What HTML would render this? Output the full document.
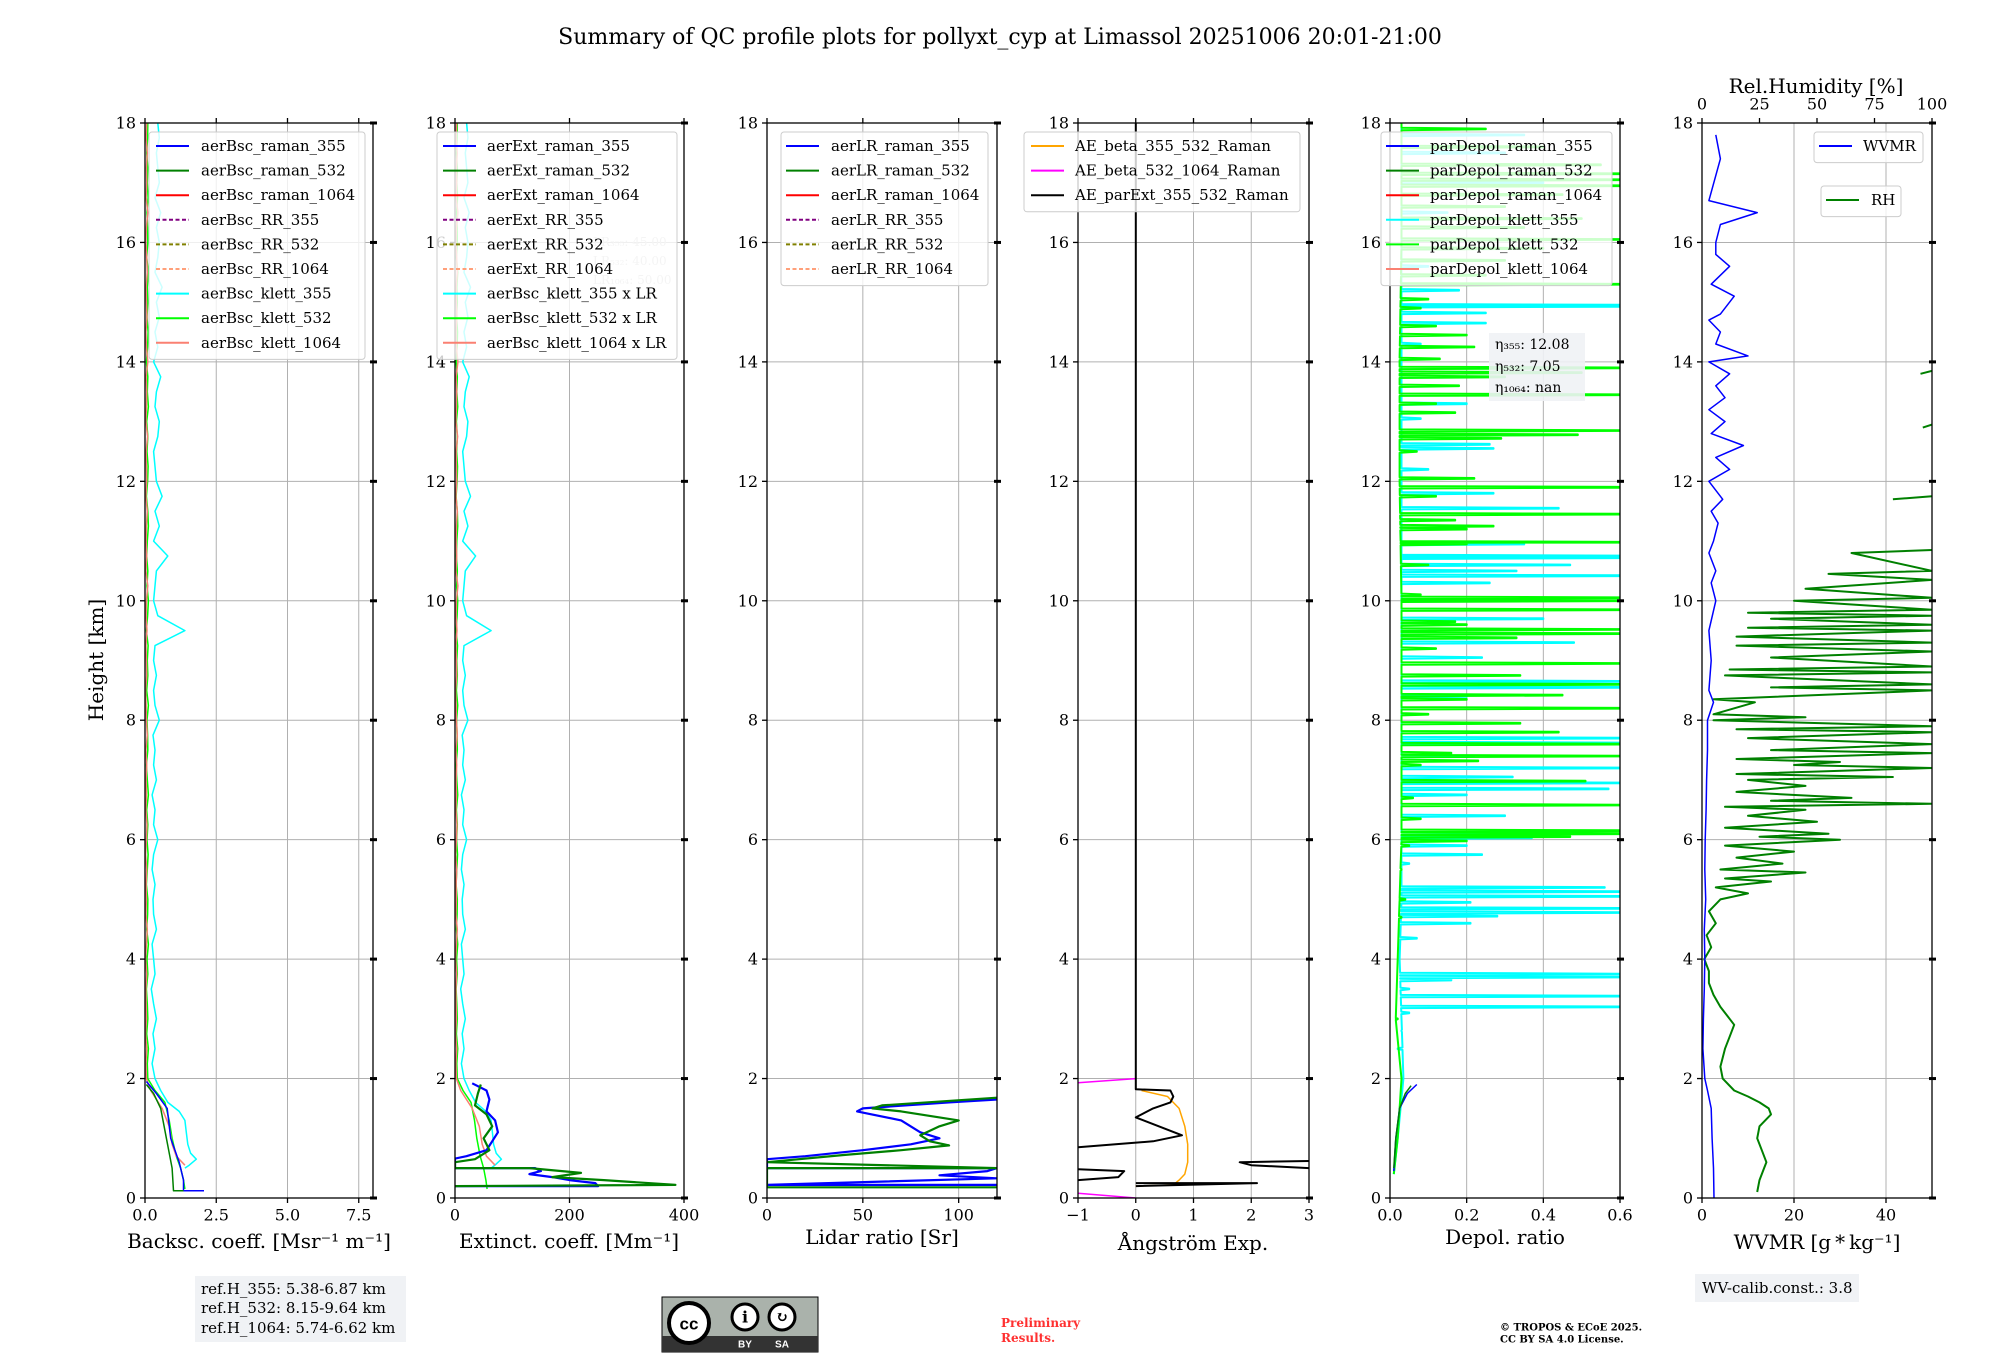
<!DOCTYPE html>
<html><head><meta charset="utf-8">
<style>
html,body{margin:0;padding:0;background:#fff;}
svg{display:block;font-family:"DejaVu Serif","Liberation Serif",serif;}
</style></head>
<body>
<svg id="fig" width="2000" height="1360" viewBox="0 0 2000 1360" xmlns="http://www.w3.org/2000/svg">
<text x="1000" y="44" text-anchor="middle" font-size="22">Summary of QC profile plots for pollyxt_cyp at Limassol 20251006 20:01-21:00</text>
<g id="layer"></g>
</svg>
<script>
// ---------- DATA ----------
const bsc355RamanH = [0.12,0.12,0.3,0.6,1.0,1.5,1.75,1.95];
const bsc355RamanV = [2.07,1.35,1.35,1.2,0.9,0.78,0.4,0.05];
const bsc532RamanH = [0.12,0.12,0.5,1.0,1.5,1.75,1.9];
const bsc532RamanV = [1.35,1.0,0.95,0.75,0.55,0.3,0.05];
const bscK355LowH = [0.5,0.55,0.65,0.75,0.9,1.1,1.3,1.45,1.6,1.8];
const bscK355LowV = [1.4,1.55,1.8,1.6,1.5,1.45,1.4,1.2,0.8,0.55];
const bscK532LowH = [0.15,0.3,0.5,0.7,1.0,1.3,1.6,1.8];
const bscK532LowV = [1.4,1.35,1.25,1.1,0.95,0.85,0.7,0.35];
const bscK1064LowH = [0.55,0.7,0.9,1.2,1.5,1.8];
const bscK1064LowV = [1.4,1.1,0.95,0.85,0.6,0.2];
// upper noisy profiles, 2.0 km to 18.0 km every 0.25 km
const bscK355Up = [0.35,0.25,0.35,0.28,0.4,0.3,0.22,0.35,0.3,0.25,0.4,0.3,0.28,0.35,0.25,0.3,0.45,0.3,0.35,0.25,0.4,0.3,0.35,0.28,0.5,0.35,0.3,0.4,0.3,0.35,1.4,0.45,0.3,0.35,0.4,0.8,0.3,0.5,0.35,0.6,0.4,0.35,0.3,0.45,0.5,0.35,0.4,0.55,0.3,0.45,0.35,0.5,0.4,0.6,0.35,0.45,0.5,0.4,0.55,0.35,0.5,0.45,0.4,0.5,0.45];
const bscK532Up = [0.1,0.08,0.12,0.06,0.1,0.08,0.05,0.1,0.07,0.12,0.06,0.09,0.1,0.05,0.08,0.11,0.07,0.1,0.06,0.12,0.08,0.05,0.1,0.09,0.07,0.12,0.06,0.1,0.08,0.11,0.05,0.09,0.12,0.07,0.1,0.06,0.08,0.12,0.1,0.05,0.09,0.11,0.07,0.1,0.06,0.12,0.08,0.1,0.05,0.09,0.11,0.07,0.1,0.08,0.12,0.06,0.1,0.09,0.07,0.11,0.08,0.1,0.06,0.09,0.1];
const bscK1064Up = [0.05,0.03,0.06,0.02,0.05,0.04,0.03,0.06,0.02,0.05,0.08,0.03,0.05,0.04,0.06,0.02,0.05,0.07,0.03,0.05,0.04,0.06,0.03,0.08,0.05,0.04,0.02,0.06,0.05,0.03,0.07,0.04,0.05,0.1,0.03,0.06,0.04,0.05,0.08,0.03,0.06,0.05,0.04,0.09,0.03,0.05,0.06,0.04,0.1,0.05,0.03,0.07,0.05,0.04,0.08,0.06,0.03,0.05,0.1,0.04,0.06,0.05,0.08,0.04,0.06];
const lrKlett = [45,40,50];
const ext355H = [0.2,0.2,0.25,0.3,0.35,0.4,0.45,0.5,0.5,0.66,0.7,0.8,0.95,1.1,1.3,1.45,1.65,1.8,1.92];
const ext355V = [0,250,245,200,170,130,150,140,0,0,20,55,65,75,70,55,60,55,30];
const ext532H = [0.2,0.22,0.3,0.35,0.42,0.5,0.5,0.6,0.65,0.8,1.0,1.2,1.4,1.55,1.75,1.9];
const ext532V = [0,385,260,170,220,130,0,0,35,60,50,65,55,35,40,45];
const lr355H = [0.22,0.22,0.33,0.38,0.45,0.5,0.5,0.65,0.7,0.8,0.9,1.0,1.1,1.3,1.45,1.5,1.6,1.65];
const lr355V = [120,0,120,90,115,120,0,0,20,50,75,90,80,70,47,50,95,120];
const lr532H = [0.18,0.18,0.5,0.5,0.6,0.72,0.8,0.88,0.95,1.05,1.2,1.3,1.45,1.5,1.55,1.68];
const lr532V = [120,0,0,120,0,40,70,95,85,80,90,100,70,55,60,120];
const aeBetaH = [0.2,0.22,0.3,0.4,0.6,0.9,1.2,1.5,1.7,1.8];
const aeBetaV = [0.0,0.65,0.75,0.85,0.9,0.9,0.85,0.75,0.55,0.1];
const aeMagH = [[0.0,0.08],[2.0,1.93]];
const aeMagV = [[0,-1],[0,-1]];
const aeExtH = [[18,1.82,1.8,1.7,1.6,1.5,1.35,1.2,1.05,0.95,0.85],[0.3,0.35,0.45,0.48],[0.5,0.55,0.6,0.62],[0.25,0.25,0.2]];
const aeExtV = [[0,0,0.6,0.65,0.6,0.3,0,0.4,0.8,0.3,-1],[-1,-0.3,-0.2,-1],[3,2.0,1.8,3],[0,2.1,0]];
const dpR355H = [0.45,1.0,1.5,1.75,1.9];
const dpR355V = [0.01,0.015,0.025,0.045,0.07];
const dpR532H = [0.5,1.0,1.5,1.75,1.88];
const dpR532V = [0.01,0.015,0.025,0.04,0.055];
const dpBaseH = [0.4,1.0,2.0,3.0,4.0,5.0,6.0,8.0,10.0,12.0,14.0,16.0,18.0];
const dpK532Base = [0.01,0.02,0.03,0.015,0.02,0.025,0.03,0.03,0.03,0.025,0.025,0.03,0.03];
const dpK355Base = [0.01,0.02,0.035,0.03,0.025,0.03,0.03,0.03,0.03,0.03,0.03,0.03,0.03];
const dpK532SpH = [17.9,17.6,17.3,17.15,17.05,16.95,16.8,16.6,16.4,16.25,16.05,15.9,15.7,15.45,15.3,15.05,14.9,14.6,14.45,14.25,14.05,13.9,13.82,13.75,13.6,13.45,13.3,13.15,12.85,12.78,12.72,12.5,12.05,11.9,11.75,11.45,11.35,11.25,11.2,10.98,10.95,10.6,10.1,10.05,10.0,9.85,9.65,9.6,9.52,9.45,9.38,9.2,8.95,8.75,8.6,8.42,8.35,8.2,8.1,7.95,7.8,7.6,7.45,7.4,7.32,7.25,6.98,6.7,6.58,6.35,6.15,6.1,6.05,5.98,5.9,5.5,5.0,4.7,3.0];
const dpK532SpV = [0.25,0.4,0.55,0.6,0.6,0.6,0.45,0.3,0.5,0.35,0.6,0.4,0.3,0.25,0.6,0.1,0.08,0.12,0.2,0.22,0.13,0.6,0.5,0.3,0.18,0.6,0.12,0.17,0.6,0.49,0.29,0.07,0.22,0.6,0.12,0.6,0.17,0.27,0.2,0.6,0.2,0.1,0.08,0.6,0.6,0.6,0.17,0.2,0.6,0.6,0.33,0.12,0.6,0.34,0.6,0.45,0.2,0.6,0.1,0.34,0.44,0.6,0.16,0.6,0.23,0.08,0.51,0.06,0.6,0.08,0.6,0.6,0.47,0.2,0.05,0.03,0.04,0.03,0.02];
const dpK355SpH = [17.8,17.5,17.0,16.5,15.6,15.2,14.95,14.93,14.82,14.65,14.3,13.3,13.05,12.62,12.55,12.2,11.8,11.55,10.95,10.75,10.72,10.6,10.5,10.42,10.3,9.7,9.3,9.05,8.65,8.55,8.4,7.7,7.62,7.4,7.2,7.05,6.95,6.85,6.75,6.4,6.1,6.03,5.9,5.75,5.6,5.2,5.13,5.05,4.95,4.85,4.78,4.72,4.6,4.35,3.75,3.7,3.65,3.5,3.38,3.2,3.1,2.8,2.5];
const dpK355SpV = [0.35,0.3,0.4,0.15,0.1,0.18,0.6,0.6,0.25,0.25,0.08,0.2,0.08,0.26,0.27,0.1,0.27,0.44,0.35,0.6,0.6,0.47,0.33,0.6,0.26,0.4,0.48,0.24,0.6,0.6,0.2,0.6,0.6,0.22,0.6,0.32,0.6,0.57,0.2,0.3,0.3,0.37,0.2,0.24,0.05,0.56,0.6,0.6,0.21,0.6,0.6,0.28,0.21,0.07,0.6,0.6,0.16,0.05,0.6,0.6,0.05,0.03,0.02];
const wvH = [0,0.5,1.0,1.5,1.8,2.0,2.5,3,3.5,4,4.5,5,5.5,6,6.5,7,7.5,8,8.3,8.5,9,9.5,10,10.3,10.5,10.8,11,11.3,11.5,11.7,12,12.2,12.4,12.6,12.8,13,13.2,13.4,13.6,13.8,14.0,14.1,14.3,14.5,14.7,14.8,15.1,15.3,15.6,15.8,16.0,16.3,16.5,16.7,17.4,17.8];
const wvV = [2.6,2.5,2.2,2.0,1.2,0.6,0.2,0.3,0.5,0.6,0.5,0.8,0.6,0.7,0.9,1.0,1.2,1.2,2.5,1.5,2,1.5,3,2,3,1.5,2.5,3.5,2,4.5,1.5,6,3,9,2,5,1.5,5,3,6,1.5,10,3,4,1.5,4,7,2,6,3,3,4,12,1.5,4,3];
const rhH = [0.1,0.3,0.5,0.6,0.8,1.0,1.2,1.4,1.5,1.6,1.7,1.8,2.0,2.2,2.5,2.7,2.9,3.0,3.2,3.4,3.6,3.8,4.0,4.2,4.4,4.6,4.8,5.0,5.1,5.2,5.3,5.35,5.45,5.5,5.6,5.7,5.8,5.9,6.0,6.05,6.1,6.2,6.3,6.4,6.5,6.55,6.6,6.65,6.7,6.8,6.9,7.0,7.05,7.1,7.2,7.25,7.3,7.35,7.45,7.5,7.6,7.7,7.8,7.85,7.9,8.0,8.05,8.1,8.3,8.35,8.5,8.55,8.6,8.75,8.8,8.85,8.9,9.05,9.15,9.25,9.3,9.4,9.5,9.55,9.6,9.7,9.75,9.8,9.85,10.0,10.05,10.2,10.35,10.45,10.5,10.8,10.85,null,11.7,11.75,null,12.9,12.95,null,13.8,13.85];
const rhV = [24,25,27,28,26,24,25,30,29,25,20,14,9,8,10,12,14,12,8,5,3,3,1,4,2,6,3,8,20,6,30,10,45,8,35,15,40,10,60,25,55,10,50,20,45,10,100,30,65,15,45,20,83,15,100,40,60,15,100,30,100,20,100,15,100,5,45,5,23,5,100,30,100,10,100,12,100,30,100,15,100,15,100,20,100,30,100,20,100,40,100,45,100,55,100,65,100,null,83,100,null,96,100,null,95,100];

// ---------- HELPERS ----------
const NS = 'http://www.w3.org/2000/svg';
const layer = document.getElementById('layer');
const Y0 = 1198, Y1 = 123, HMAX = 18;
const TICKFS = 16, LABFS = 20;
function yS(h){ return Y0 - (h / HMAX) * (Y0 - Y1); }
function mkScale(px0, px1, d0, d1){ return v => px0 + (v - d0) / (d1 - d0) * (px1 - px0); }
function el(tag, attrs, parent){
  const e = document.createElementNS(NS, tag);
  for (const k in attrs) e.setAttribute(k, attrs[k]);
  (parent || layer).appendChild(e);
  return e;
}
function txt(x, y, s, size, anchor, name, extra){
  const t = el('text', Object.assign({x:x, y:y, 'font-size':size, 'text-anchor':anchor||'start', 'dominant-baseline':'central'}, extra||{}));
  t.textContent = s;
  
  
  return t;
}
function pathFrom(H, V, xs, clipId, color, width, name, dash){
  let d = '', pen = false;
  for (let i = 0; i < H.length; i++){
    if (H[i] === null || V[i] === null){ pen = false; continue; }
    d += (pen ? 'L' : 'M') + xs(V[i]).toFixed(1) + ',' + yS(H[i]).toFixed(1);
    pen = true;
  }
  const p = el('path', {d:d, fill:'none', stroke:color, 'stroke-width':width, 'clip-path':'url(#' + clipId + ')', 'stroke-linejoin':'round'});
  if (dash) p.setAttribute('stroke-dasharray', dash);
  
  
  return p;
}
function upperH(arr){ const h = []; for (let i = 0; i < arr.length; i++) h.push(2 + 0.25 * i); return h; }
function interpBase(h, BH, BV){
  for (let i = 0; i < BH.length - 1; i++) if (h >= BH[i] && h <= BH[i+1]) return BV[i] + (BV[i+1]-BV[i])*(h-BH[i])/(BH[i+1]-BH[i]);
  return BV[BV.length-1];
}
function spikeProfile(BH, BV, SH, SV){
  const pts = [];
  for (let i = 0; i < BH.length; i++) pts.push([BH[i], BV[i]]);
  for (let i = 0; i < SH.length; i++){
    const b = interpBase(SH[i], BH, BV);
    pts.push([SH[i]-0.02, b]); pts.push([SH[i]-0.006, SV[i]]); pts.push([SH[i]+0.006, SV[i]]); pts.push([SH[i]+0.02, b]);
  }
  pts.sort((a,b)=>a[0]-b[0]);
  return [pts.map(p=>p[0]), pts.map(p=>p[1])];
}

const defs = el('defs', {});
function panel(id, x0, x1, d0, d1, ticks){
  const cp = el('clipPath', {id:'clip' + id}, defs);
  el('rect', {x:x0, y:Y1, width:x1-x0, height:Y0-Y1}, cp);
  const xs = mkScale(x0, x1, d0, d1);
  for (let h = 0; h <= 18; h += 2){
    const gl = el('line', {x1:x0, x2:x1, y1:yS(h), y2:yS(h), stroke:'#b0b0b0', 'stroke-width':1});
    
    
  }
  ticks.forEach(t => {
    const X = xs(t);
    const gl = el('line', {x1:X, x2:X, y1:Y1, y2:Y0, stroke:'#b0b0b0', 'stroke-width':1});
    
    
  });
  return xs;
}
function frame(id, x0, x1, xs, ticks, tickLabels, topTicks){
  const r = el('rect', {x:x0, y:Y1, width:x1-x0, height:Y0-Y1, fill:'none', stroke:'#000', 'stroke-width':1.3});
  
  
  for (let h = 0; h <= 18; h += 2){
    const tk = el('line', {x1:x0-5, x2:x0, y1:yS(h), y2:yS(h), stroke:'#000', 'stroke-width':1.3});
    
    
    const tr = el('line', {x1:x1-3, x2:x1+4, y1:yS(h), y2:yS(h), stroke:'#000', 'stroke-width':3});
    
    
    txt(x0-9, yS(h), String(h), TICKFS, 'end', 'y-tick-label');
  }
  ticks.forEach((t, i) => {
    const X = xs(t);
    const tk = el('line', {x1:X, x2:X, y1:Y0, y2:Y0+5, stroke:'#000', 'stroke-width':1.3});
    
    
    txt(X, Y0+17, tickLabels[i], TICKFS, 'middle', 'x-tick-label');
  });
  (topTicks || ticks).forEach(t => {
    const X = xs(t);
    const tk = el('line', {x1:X, x2:X, y1:Y1-5, y2:Y1, stroke:'#000', 'stroke-width':1.3});
    
    
  });
}
function legend(x, y, w, rows, name, lineX, textX){
  const g = el('g', {});
  
  
  const h = rows.length * 24.6 + 6;
  el('rect', {x:x, y:y, width:w, height:h, rx:3, fill:'#fff', 'fill-opacity':0.8, stroke:'#cccccc', 'stroke-width':1}, g);
  rows.forEach((r, i) => {
    const yy = y + 14 + i * 24.6;
    const ln = el('line', {x1:x + lineX, x2:x + lineX + 33, y1:yy, y2:yy, stroke:r[1], 'stroke-width':2}, g);
    if (r[2]) ln.setAttribute('stroke-dasharray', '4,2.5');
    
    
    const t = txt(x + textX, yy, r[0], 15, 'start', 'legend-entry');
    g.appendChild(t);
  });
}

const C = {b:'#0000ff', g:'#008000', r:'#ff0000', p:'#800080', o:'#808000', ls:'#ffa07a', c:'#00ffff', l:'#00ff00', s:'#fa8072', or:'#ffa500', m:'#ff00ff', k:'#000000'};

// ---------- PANEL 1 ----------
const t1 = [0, 2.5, 5.0, 7.5];
const xs1 = panel('bsc', 145, 373, 0, 8.0, t1);
const upH = upperH(bscK355Up);
pathFrom(bscK355LowH.concat(upH), bscK355LowV.concat(bscK355Up), xs1, 'clipbsc', C.c, 1.5, 'bsc-klett-355-line');
pathFrom(bscK532LowH.concat(upH), bscK532LowV.concat(bscK532Up), xs1, 'clipbsc', C.l, 1.5, 'bsc-klett-532-line');
pathFrom(bscK1064LowH.concat(upH), bscK1064LowV.concat(bscK1064Up), xs1, 'clipbsc', C.s, 1.5, 'bsc-klett-1064-line');
pathFrom(bsc355RamanH, bsc355RamanV, xs1, 'clipbsc', C.b, 1.5, 'bsc-raman-355-line');
pathFrom(bsc532RamanH, bsc532RamanV, xs1, 'clipbsc', C.g, 1.5, 'bsc-raman-532-line');
frame('bsc', 145, 373, xs1, t1, ['0.0','2.5','5.0','7.5']);
txt(259, 1241, 'Backsc. coeff. [Msr\u207B\u00B9 m\u207B\u00B9]', LABFS, 'middle', 'x-axis-title-backscatter');
legend(149, 132, 216, [['aerBsc_raman_355',C.b],['aerBsc_raman_532',C.g],['aerBsc_raman_1064',C.r],['aerBsc_RR_355',C.p,1],['aerBsc_RR_532',C.o,1],['aerBsc_RR_1064',C.ls,1],['aerBsc_klett_355',C.c],['aerBsc_klett_532',C.l],['aerBsc_klett_1064',C.s]], 'legend-backscatter', 7, 52);

// ---------- PANEL 2 ----------
const t2 = [0, 200, 400];
const xs2 = panel('ext', 455, 684, 0, 400, t2);
pathFrom(bscK355LowH.concat(upH), bscK355LowV.concat(bscK355Up).map(v=>v*lrKlett[0]), xs2, 'clipext', C.c, 1.5, 'ext-klett-355-line');
pathFrom(bscK532LowH.concat(upH), bscK532LowV.concat(bscK532Up).map(v=>v*lrKlett[1]), xs2, 'clipext', C.l, 1.5, 'ext-klett-532-line');
pathFrom(bscK1064LowH.concat(upH), bscK1064LowV.concat(bscK1064Up).map(v=>v*lrKlett[2]), xs2, 'clipext', C.s, 1.5, 'ext-klett-1064-line');
pathFrom(ext355H, ext355V, xs2, 'clipext', C.b, 2.2, 'ext-raman-355-line');
pathFrom(ext532H, ext532V, xs2, 'clipext', C.g, 2.2, 'ext-raman-532-line');
frame('ext', 455, 684, xs2, t2, ['0','200','400']);
txt(569, 1241, 'Extinct. coeff. [Mm\u207B\u00B9]', LABFS, 'middle', 'x-axis-title-extinction');
txt(593, 242, 'LR\u2083\u2085\u2085: 45.00', 12, 'start', 'lr-355-note', {fill:'#c8c8c8'});
txt(593, 261, 'LR\u2085\u2083\u2082: 40.00', 12, 'start', 'lr-532-note', {fill:'#c8c8c8'});
txt(593, 280, 'LR\u2081\u2080\u2086\u2084: 50.00', 12, 'start', 'lr-1064-note', {fill:'#c8c8c8'});
legend(437, 132, 240, [['aerExt_raman_355',C.b],['aerExt_raman_532',C.g],['aerExt_raman_1064',C.r],['aerExt_RR_355',C.p,1],['aerExt_RR_532',C.o,1],['aerExt_RR_1064',C.ls,1],['aerBsc_klett_355 x LR',C.c],['aerBsc_klett_532 x LR',C.l],['aerBsc_klett_1064 x LR',C.s]], 'legend-extinction', 6, 50);

// ---------- PANEL 3 ----------
const t3 = [0, 50, 100];
const xs3 = panel('lr', 767, 997, 0, 120, t3);
pathFrom(lr355H, lr355V, xs3, 'cliplr', C.b, 2.2, 'lr-raman-355-line');
pathFrom(lr532H, lr532V, xs3, 'cliplr', C.g, 2.2, 'lr-raman-532-line');
frame('lr', 767, 997, xs3, t3, ['0','50','100']);
txt(882, 1237, 'Lidar ratio [Sr]', LABFS, 'middle', 'x-axis-title-lidar-ratio');
legend(781, 132, 207, [['aerLR_raman_355',C.b],['aerLR_raman_532',C.g],['aerLR_raman_1064',C.r],['aerLR_RR_355',C.p,1],['aerLR_RR_532',C.o,1],['aerLR_RR_1064',C.ls,1]], 'legend-lidar-ratio', 5, 50);

// ---------- PANEL 4 ----------
const t4 = [-1, 0, 1, 2, 3];
const xs4 = panel('ae', 1078, 1309, -1, 3, t4);
pathFrom(aeBetaH, aeBetaV, xs4, 'clipae', C.or, 1.5, 'ae-beta-355-532-line');
aeMagH.forEach((H, i) => pathFrom(H, aeMagV[i], xs4, 'clipae', C.m, 1.5, 'ae-beta-532-1064-line'));
aeExtH.forEach((H, i) => pathFrom(H, aeExtV[i], xs4, 'clipae', C.k, 2, 'ae-parext-355-532-line'));
frame('ae', 1078, 1309, xs4, t4, ['\u22121','0','1','2','3']);
txt(1193, 1243, '\u00C5ngstr\u00F6m Exp.', LABFS, 'middle', 'x-axis-title-angstrom');
legend(1024, 132, 276, [['AE_beta_355_532_Raman',C.or],['AE_beta_532_1064_Raman',C.m],['AE_parExt_355_532_Raman',C.k]], 'legend-angstrom', 7, 51);

// ---------- PANEL 5 ----------
const t5 = [0, 0.2, 0.4, 0.6];
const xs5 = panel('dp', 1390, 1620, 0, 0.6, t5);
const p355 = spikeProfile(dpBaseH, dpK355Base, dpK355SpH, dpK355SpV);
pathFrom(p355[0], p355[1], xs5, 'clipdp', C.c, 2, 'depol-klett-355-line');
const p532 = spikeProfile(dpBaseH, dpK532Base, dpK532SpH, dpK532SpV);
pathFrom(p532[0], p532[1], xs5, 'clipdp', C.l, 2, 'depol-klett-532-line');
pathFrom(dpR355H, dpR355V, xs5, 'clipdp', C.b, 1.5, 'depol-raman-355-line');
pathFrom(dpR532H, dpR532V, xs5, 'clipdp', C.g, 1.5, 'depol-raman-532-line');
frame('dp', 1390, 1620, xs5, t5, ['0.0','0.2','0.4','0.6']);
txt(1505, 1237, 'Depol. ratio', LABFS, 'middle', 'x-axis-title-depol');
legend(1381, 132, 231, [['parDepol_raman_355',C.b],['parDepol_raman_532',C.g],['parDepol_raman_1064',C.r],['parDepol_klett_355',C.c],['parDepol_klett_532',C.l],['parDepol_klett_1064',C.s]], 'legend-depol', 5, 49);
const eb = el('rect', {x:1489, y:333, width:96, height:68, fill:'#f0f2f5', 'fill-opacity':0.9});


txt(1495, 345, '\u03B7\u2083\u2085\u2085: 12.08', 14, 'start', 'eta-355-text');
txt(1495, 367, '\u03B7\u2085\u2083\u2082: 7.05', 14, 'start', 'eta-532-text');
txt(1495, 388, '\u03B7\u2081\u2080\u2086\u2084: nan', 14, 'start', 'eta-1064-text');

// ---------- PANEL 6 ----------
const t6 = [0, 20, 40];
const xs6 = panel('wv', 1702, 1932, 0, 50, t6);
const xsRH = mkScale(1702, 1932, 0, 100);
pathFrom(rhH, rhV, xsRH, 'clipwv', C.g, 2, 'rh-line');
pathFrom(wvH, wvV, xs6, 'clipwv', C.b, 1.5, 'wvmr-line');
frame('wv', 1702, 1932, xs6, t6, ['0','20','40'], []);
[0,25,50,75,100].forEach(t => {
  const X = xsRH(t);
  const tk = el('line', {x1:X, x2:X, y1:Y1-5, y2:Y1, stroke:'#000', 'stroke-width':1.3});
  
  
  txt(X, 104, String(t), TICKFS, 'middle', 'rh-tick-label');
});
txt(1816, 86, 'Rel.Humidity [%]', LABFS, 'middle', 'top-axis-title-rh');
txt(1817, 1242, 'WVMR [g\u2009*\u2009kg\u207B\u00B9]', LABFS, 'middle', 'x-axis-title-wvmr');
legend(1814, 132, 109, [['WVMR',C.b]], 'legend-wvmr', 5, 49);
legend(1821, 186, 80, [['RH',C.g]], 'legend-rh', 5, 50);

txt(96, 660, 'Height [km]', LABFS, 'middle', 'y-axis-title', {transform:'rotate(-90 96 660)'});

// ---------- FOOTER ----------
const rb = el('rect', {x:195, y:1276, width:211, height:66, fill:'#f0f2f5'});


txt(201, 1289, 'ref.H_355: 5.38-6.87 km', 15, 'start', 'ref-height-355');
txt(201, 1308, 'ref.H_532: 8.15-9.64 km', 15, 'start', 'ref-height-532');
txt(201, 1328, 'ref.H_1064: 5.74-6.62 km', 15, 'start', 'ref-height-1064');

const cc = el('g', {});


el('rect', {x:662, y:1297, width:156, height:55, fill:'#aab2ab', stroke:'#000', 'stroke-width':1}, cc);
el('rect', {x:662, y:1336, width:156, height:16, fill:'#333'}, cc);
el('circle', {cx:689, cy:1323, r:20, fill:'#fff', stroke:'#000', 'stroke-width':4}, cc);
el('circle', {cx:745, cy:1317, r:13, fill:'#fff', stroke:'#000', 'stroke-width':3}, cc);
el('circle', {cx:782, cy:1317, r:13, fill:'#fff', stroke:'#000', 'stroke-width':3}, cc);
txt(689, 1324, 'cc', 17, 'middle', 'cc-text', {'font-weight':'bold', 'font-family':'Liberation Sans, sans-serif'});
txt(745, 1317, 'i', 16, 'middle', 'by-icon', {'font-weight':'bold'});
txt(782, 1317, '\u21BB', 15, 'middle', 'sa-icon', {'font-weight':'bold'});
txt(745, 1345, 'BY', 10, 'middle', 'by-text', {fill:'#fff', 'font-weight':'bold', 'font-family':'Liberation Sans, sans-serif'});
txt(782, 1345, 'SA', 10, 'middle', 'sa-text', {fill:'#fff', 'font-weight':'bold', 'font-family':'Liberation Sans, sans-serif'});

txt(1001, 1323, 'Preliminary', 12, 'start', 'preliminary-note', {fill:'#ff3030', 'font-weight':'bold'});
txt(1001, 1338, 'Results.', 12, 'start', 'preliminary-note-2', {fill:'#ff3030', 'font-weight':'bold'});
txt(1500, 1328, '\u00A9 TROPOS & ECoE 2025.', 10, 'start', 'copyright-note', {'font-weight':'bold'});
txt(1500, 1340, 'CC BY SA 4.0 License.', 10, 'start', 'license-note', {'font-weight':'bold'});
const wb = el('rect', {x:1695, y:1274, width:164, height:28, fill:'#f0f2f5'});


txt(1702, 1288, 'WV-calib.const.: 3.8', 15, 'start', 'wv-calib-text');
</script>
</body></html>
